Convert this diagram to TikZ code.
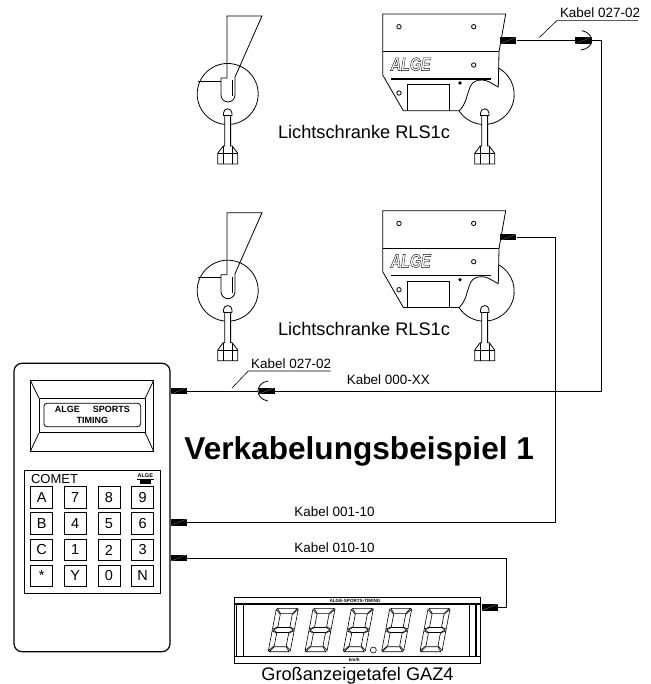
\documentclass[tikz,border=0pt]{standalone}
\usepackage{fontspec}
\setmainfont{Liberation Sans}
\usepackage{tikz}

\newcommand{\outlinelogo}{\special{pdf:code q 1 Tr 0.35 w}ALGE\special{pdf:code Q}}

\tikzset{
    % Handle with nut, origin at the centre of the round part
    pics/knob/.style={code={
        \draw[fill=white] (-4.2,19) arc[start angle=180, end angle=0, radius=4.2pt] -- (4.2,21.5) -- (2.9,21.5) -- (2.9,52) -- (4.5,52) -- (10,59.3) -- (10,70) -- (-10,70) -- (-10,59.3) -- (-4.5,52) -- (-2.9,52) -- (-2.9,21.5) -- (-4.2,21.5) -- cycle;
        \draw (-4.2,21.5) -- (4.2,21.5);
        \draw (-10,59.3) -- (10,59.3);
        \draw (-4.5,52) -- (-4.5,70);
        \draw (4.5,52) -- (4.5,70);
    }},
    % Passive part of the light barrier
    pics/reflector/.style={code={
        \draw (227.7,94) circle[radius=30.5pt];
        \draw (227,16) -- (262,16) -- (235,77) -- (235,95) arc[start angle=0, end angle=-180, radius=7pt] -- (221,78) -- (227,78) -- cycle;
        \draw (198,81) -- (221,81);
        \draw (232.8,80) -- (232.8,96);
    }},
    % Housing with screws, window and logo
    pics/housing/.style={code={
        \draw[fill=white] (382.7,14) -- (505.7,14) -- (499,51.7) -- (498.3,87) .. controls (492,84) and (488,80) .. (482,80) .. controls (470,80) and (470,88) .. (467,96) .. controls (465,104) and (462,108) .. (459.3,110.7) -- (403.3,110.7) -- (382.7,75) -- cycle;
        \draw (498.3,68) arc[start angle=62, end angle=-147, radius=30pt];
        \draw (382.7,51.7) -- (499,51.7);
        \draw[line width=1.2pt] (391,79) -- (491,79);
        \draw (407,110.7) -- (407,84.3) -- (449,84.3) -- (449,110.7);
        \draw (399,26.7) circle[radius=2.2pt];
        \draw (473.7,26.7) circle[radius=2.2pt];
        \draw (473.7,65) circle[radius=2.2pt];
        \draw (399,93) circle[radius=2.2pt];
        \fill (460,83) circle[radius=1.8pt];
    }},
    % Seven segments, slanted
    pics/digit/.style={code={
        \begin{scope}[xslant=0.19, line width=0.6pt]
            \draw (-10,-21.7) -- (10,-21.7) -- (6,-16.7) -- (-6,-16.7) -- cycle;
            \draw (-10,21.7) -- (10,21.7) -- (6,16.7) -- (-6,16.7) -- cycle;
            \draw (-10,0) -- (-6,-2.5) -- (6,-2.5) -- (10,0) -- (6,2.5) -- (-6,2.5) -- cycle;
            \draw (-11,-20.7) -- (-6,-15.7) -- (-6,-3.2) -- (-11,-0.7) -- cycle;
            \draw (11,-20.7) -- (6,-15.7) -- (6,-3.2) -- (11,-0.7) -- cycle;
            \draw (-11,20.7) -- (-6,15.7) -- (-6,3.2) -- (-11,0.7) -- cycle;
            \draw (11,20.7) -- (6,15.7) -- (6,3.2) -- (11,0.7) -- cycle;
        \end{scope}
    }},
}

\begin{document}
\begin{tikzpicture}[x=1pt, y=-1pt, line width=0.8pt, inner sep=0pt,
    plug/.style={rectangle, fill=black, minimum width=16pt, minimum height=6.4pt,
        path picture={\draw[gray, line width=0.3pt] (path picture bounding box.south west) -- (path picture bounding box.north east);}},
    cable/.style={line width=0.8pt},
    leader/.style={line width=0.6pt},
    logotext/.style={font=\fontsize{14.4}{16}\selectfont\bfseries\itshape, yscale=1.3},
    cablelabel/.style={anchor=base, font=\fontsize{13.45}{15}\selectfont},
    partlabel/.style={anchor=base, font=\fontsize{18.2}{20}\selectfont},
    keybox/.style={rectangle, draw, minimum width=22pt, minimum height=21.5pt, font=\fontsize{14.5}{16}\selectfont}]
    \useasboundingbox (0,0) rectangle (650,684);

    % Light barrier, top
    \pic at (0,0) {reflector};
    \pic at (227.7,94) {knob};
    \pic at (0,0) {housing};
    \pic at (484.7,94) {knob};
    \node[logotext] (LogoT) at (410.7,64.2) {\outlinelogo};
    \node[partlabel] (BarrierT) at (364,138.3) {Lichtschranke RLS1c};

    % Light barrier, bottom
    \pic at (0,196.7) {reflector};
    \pic at (227.7,290.7) {knob};
    \pic at (0,196.7) {housing};
    \pic at (484.7,290.7) {knob};
    \node[logotext] (LogoB) at (410.7,260.9) {\outlinelogo};
    \node[partlabel] (BarrierB) at (364,335) {Lichtschranke RLS1c};

    % Timer
    \node[rectangle, draw, rounded corners=8pt, line width=1.2pt, minimum width=156pt, minimum height=288.4pt] (Comet) at (92,507.5) {};
    \node[rectangle, draw, minimum width=122.6pt, minimum height=70.3pt] (LcdOut) at (92,415.85) {};
    \node[rectangle, draw, minimum width=105.7pt, minimum height=34.4pt] (LcdIn) at (92.15,415.5) {};
    \draw (LcdOut.north west) -- (LcdIn.north west);
    \draw (LcdOut.north east) -- (LcdIn.north east);
    \draw (LcdOut.south west) -- (LcdIn.south west);
    \draw (LcdOut.south east) -- (LcdIn.south east);
    \node[rectangle, draw, rounded corners=3pt, minimum width=96.7pt, minimum height=23.4pt, align=center, font=\fontsize{9}{10.5}\selectfont\bfseries] (LcdText) at (92.3,415) {ALGE\hspace{13pt}SPORTS\\TIMING};

    % Keys
    \node[rectangle, draw, minimum width=135.7pt, minimum height=122.6pt] (Keypad) at (92.15,532) {};
    \node[font=\fontsize{13}{15}\selectfont, anchor=base west] (CometName) at (30.7,483.5) {COMET};
    \node[font=\fontsize{5.5}{6}\selectfont\bfseries] (LogoK) at (145.3,475.7) {ALGE};
    \draw (136.7,479) -- (154,479);
    \fill (140,480) rectangle (150.7,484);
    \node[keybox] (KeyA) at (41.7,497.5) {A};
    \node[keybox] (Key7) at (75.2,497.5) {7};
    \node[keybox] (Key8) at (109,497.5) {8};
    \node[keybox] (Key9) at (142.7,497.5) {9};
    \node[keybox] (KeyB) at (41.7,523.5) {B};
    \node[keybox] (Key4) at (75.2,523.5) {4};
    \node[keybox] (Key5) at (109,523.5) {5};
    \node[keybox] (Key6) at (142.7,523.5) {6};
    \node[keybox] (KeyC) at (41.7,550) {C};
    \node[keybox] (Key1) at (75.2,550) {1};
    \node[keybox] (Key2) at (109,550) {2};
    \node[keybox] (Key3) at (142.7,550) {3};
    \node[keybox] (KeyS) at (41.7,576) {\raisebox{-3pt}{*}};
    \node[keybox] (KeyY) at (75.2,576) {Y};
    \node[keybox] (Key0) at (109,576) {0};
    \node[keybox] (KeyN) at (142.7,576) {N};

    % Large display
    \node[rectangle, draw, minimum width=246pt, minimum height=66pt] (Gaz) at (357,630.3) {};
    \draw[line width=1.2pt] (Gaz.west |- 0,604) -- (Gaz.east |- 0,604);
    \draw[line width=1.2pt] (Gaz.west |- 0,656.7) -- (Gaz.east |- 0,656.7);
    \draw[line width=1.2pt] (236.7,604) -- (236.7,656.7);
    \draw (243.3,604) -- (243.3,656.7);
    \draw (469.3,604) -- (469.3,656.7);
    \draw[line width=1.2pt] (476,604) -- (476,656.7);
    \node[font=\fontsize{4.6}{5}\selectfont\bfseries] (GazTop) at (355,601) {ALGE-SPORTS-TIMING};
    \node[font=\fontsize{4.6}{5}\selectfont\bfseries] (GazUnit) at (354.3,660) {km/h};
    \pic at (283.3,630) {digit};
    \pic at (320,630) {digit};
    \pic at (358.3,630) {digit};
    \pic at (396.7,630) {digit};
    \pic at (435,630) {digit};
    \draw[line width=0.6pt] (373.3,650) circle[radius=3pt];
    \node[partlabel] (GazName) at (357.5,680.7) {Großanzeigetafel GAZ4};

    % Plugs
    \node[plug] (PlugT) at (508.3,40.6) {};
    \node[plug] (PlugA) at (583.3,40.6) {};
    \node[plug] (PlugB) at (508.3,237.3) {};
    \node[plug] (PlugC) at (178.7,391) {};
    \node[plug] (PlugK) at (266.5,391) {};
    \node[plug] (PlugM) at (178.7,522.3) {};
    \node[plug] (PlugN) at (178.7,558) {};
    \node[plug] (PlugG) at (489.7,607.3) {};
    \draw (581.7,30.7) .. controls (589,32) and (592,37) .. (591.7,40.5) .. controls (592,45) and (588,49) .. (580.7,50);
    \draw (268,381) .. controls (261,382) and (258,387) .. (258,391) .. controls (258,395) and (261,400) .. (268,401);

    % Cables
    \coordinate (TurnA) at (601.7,391);
    \coordinate (TurnB) at (555.7,522.3);
    \coordinate (TurnC) at (506.7,558);
    \draw[cable] (PlugT) -- (PlugA);
    \draw[cable] (PlugA.east) -| (TurnA) -- (PlugK.east);
    \draw[cable] (PlugC) -- (PlugK);
    \draw[cable] (PlugB.east) -| (TurnB) -- (PlugM.east);
    \draw[cable] (PlugN.east) -- (TurnC) |- (PlugG.east);

    % Cable names
    \coordinate (TagA) at (539.3,37.5);
    \coordinate (TagAb) at (556.7,20.7);
    \coordinate (TagAc) at (638,20.7);
    \draw[leader] (TagA) -- (TagAb) -- (TagAc);
    \node[cablelabel] (NameA) at (600,17.7) {Kabel 027-02};
    \coordinate (TagB) at (232,388);
    \coordinate (TagBb) at (248.3,371);
    \coordinate (TagBc) at (330.7,371);
    \draw[leader] (TagB) -- (TagBb) -- (TagBc);
    \node[cablelabel] (NameB) at (291.2,368.3) {Kabel 027-02};
    \node[cablelabel] (NameC) at (388.3,384) {Kabel 000-XX};
    \node[cablelabel] (NameD) at (334.5,516) {Kabel 001-10};
    \node[cablelabel] (NameE) at (334.5,552) {Kabel 010-10};

    % Title
    \node[anchor=base, font=\fontsize{31.6}{34}\selectfont\bfseries] (Title) at (359.2,459.3) {Verkabelungsbeispiel 1};
\end{tikzpicture}
\end{document}
